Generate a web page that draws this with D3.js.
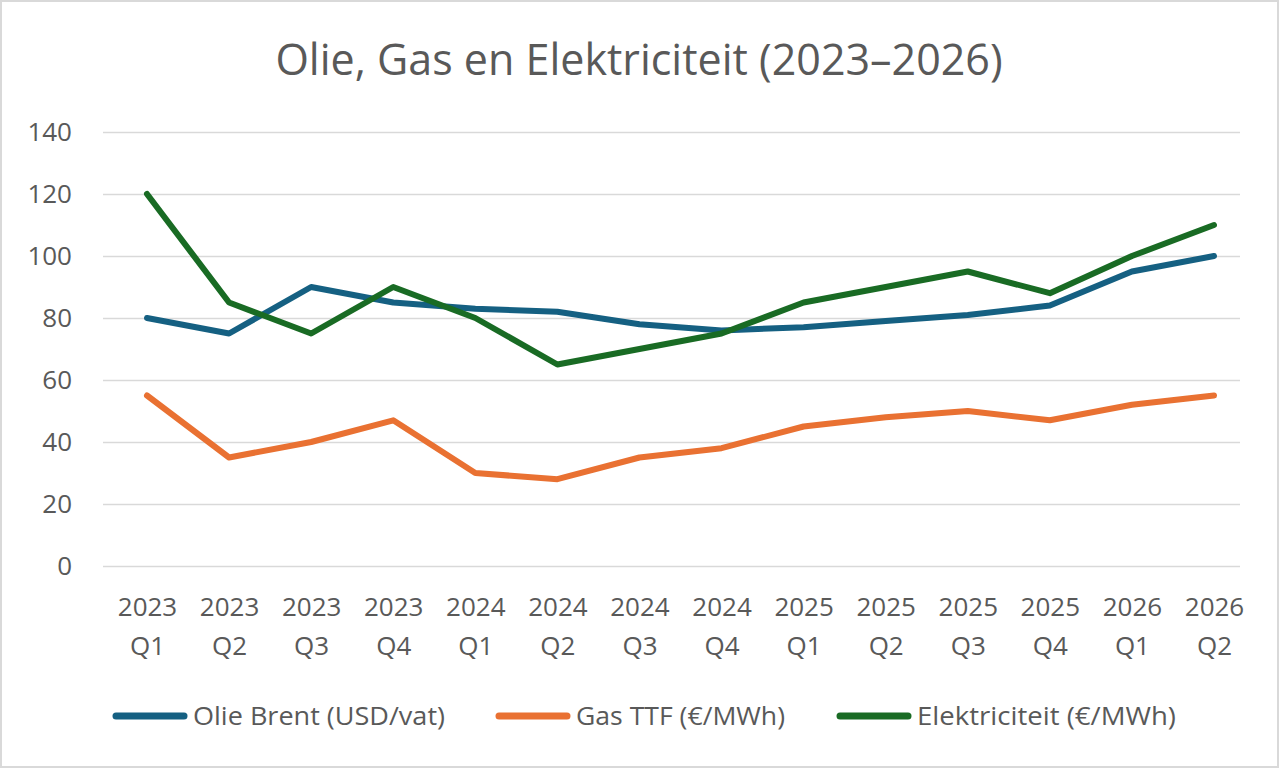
<!DOCTYPE html>
<html><head><meta charset="utf-8">
<script src="https://cdn.jsdelivr.net/npm/d3@7"></script>
<style>body{margin:0;background:#fff}svg{display:block}text{font-family:"Open Sans",sans-serif;fill:#595959}</style>
</head><body><svg id="c" width="1280" height="769"></svg>
<script>
const quarters = ["2023 Q1","2023 Q2","2023 Q3","2023 Q4","2024 Q1","2024 Q2","2024 Q3","2024 Q4","2025 Q1","2025 Q2","2025 Q3","2025 Q4","2026 Q1","2026 Q2"];
const olie = [80,75,90,85,83,82,78,76,77,79,81,84,95,100];
const gas = [55,35,40,47,30,28,35,38,45,48,50,47,52,55];
const elek = [120,85,75,90,80,65,70,75,85,90,95,88,100,110];
const yTicks = [0,20,40,60,80,100,120,140];
const seriesNames = ["Olie Brent (USD/vat)","Gas TTF (€/MWh)","Elektriciteit (€/MWh)"];
const colors = ["#156082","#E97132","#196B24"];
const series = [olie, gas, elek];

const svg = d3.select("#c");
svg.append("rect").attr("x",1).attr("y",1).attr("width",1277).attr("height",766).attr("fill","#fff").attr("stroke","#d9d9d9").attr("stroke-width",2);

const x = d3.scalePoint().domain(quarters).range([147,1214]);
const y = d3.scaleLinear().domain([0,140]).range([566,132]);

svg.append("text").attr("x",639).attr("y",75).attr("text-anchor","middle").attr("font-size",43).text("Olie, Gas en Elektriciteit (2023–2026)");

const yAxis = d3.axisLeft(y).tickValues(yTicks).tickSize(-(1240-103)).tickPadding(31);
const gy = svg.append("g").attr("transform","translate(103,0)").call(yAxis);
gy.select(".domain").remove();
gy.selectAll(".tick line").attr("stroke","#d9d9d9").attr("stroke-width",1.5);
gy.selectAll(".tick text").attr("font-size",26).attr("fill","#595959").style("font-family","'Open Sans',sans-serif");

const gx = svg.append("g").attr("transform","translate(0,566)").call(d3.axisBottom(x).tickSize(0).tickFormat(""));
gx.select(".domain").remove();
gx.selectAll(".tick").each(function(d){
  const parts = d.split(" ");
  const t = d3.select(this);
  t.append("text").attr("y",50).attr("text-anchor","middle").attr("font-size",26).text(parts[0]);
  t.append("text").attr("y",89).attr("text-anchor","middle").attr("font-size",26).text(parts[1]);
});

const line = d3.line().x((d,i)=>x(quarters[i])).y(d=>y(d));
series.forEach((s,k)=>{
  svg.append("path").datum(s).attr("d",line).attr("fill","none").attr("stroke",colors[k]).attr("stroke-width",6).attr("stroke-linejoin","round").attr("stroke-linecap","round");
});

const legX = [116,499,840];
const legW = [252,209,259];
seriesNames.forEach((n,k)=>{
  svg.append("line").attr("x1",legX[k]).attr("x2",legX[k]+68).attr("y1",716).attr("y2",716).attr("stroke",colors[k]).attr("stroke-width",7).attr("stroke-linecap","round");
  svg.append("text").attr("x",legX[k]+77).attr("y",725).attr("font-size",26).attr("textLength",legW[k]).attr("lengthAdjust","spacingAndGlyphs").text(n);
});
</script></body></html>
